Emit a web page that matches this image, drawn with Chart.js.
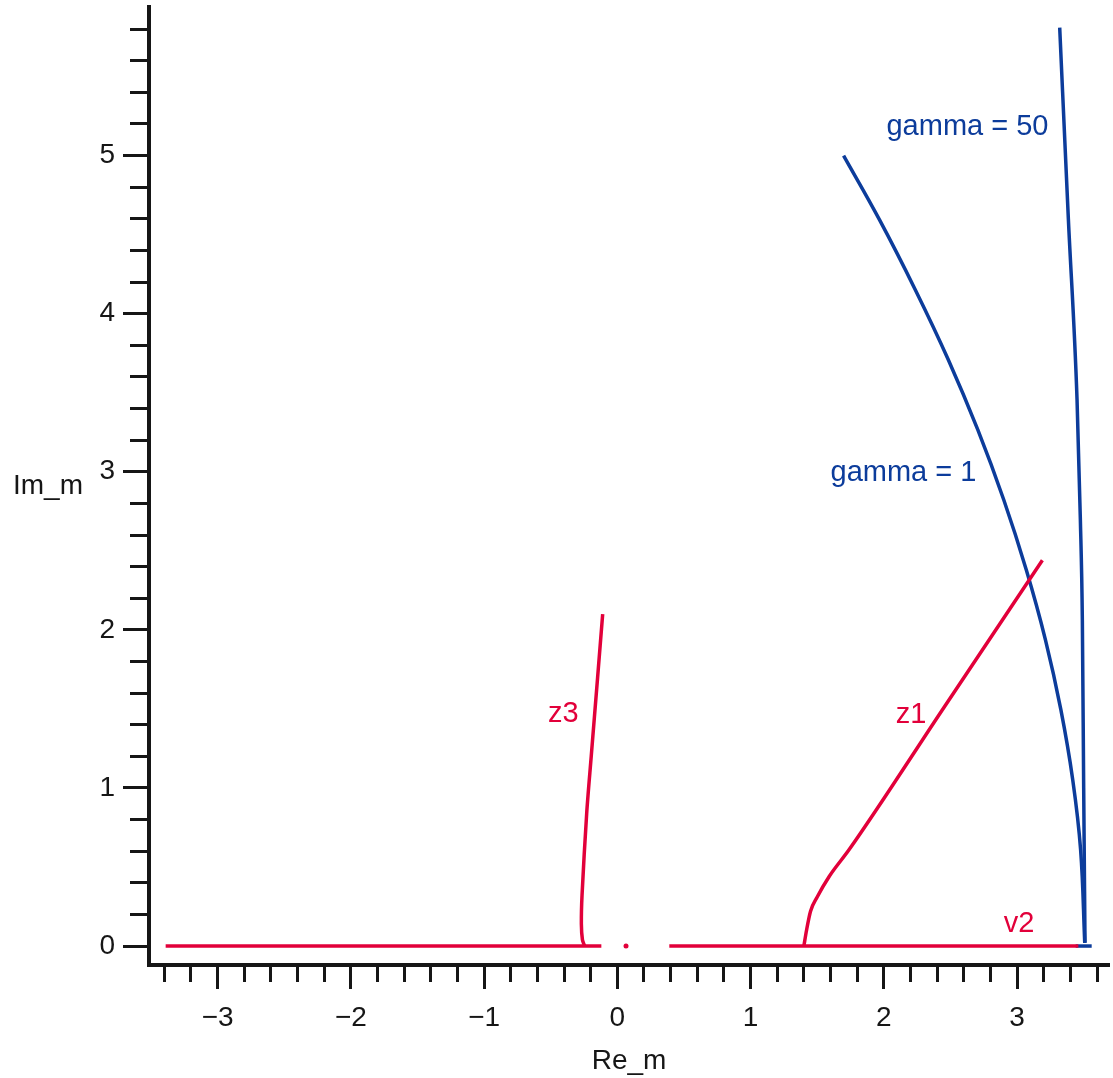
<!DOCTYPE html>
<html><head><meta charset="utf-8">
<script src="https://cdn.jsdelivr.net/npm/chart.js@4.4.1/dist/chart.umd.min.js"></script>
<style>html,body{margin:0;padding:0;background:#fff;} #wrap{width:1113px;height:1078px;position:relative;}</style>
</head><body><div id="wrap"><canvas id="c" width="1113" height="1078"></canvas></div>
<script>
const RED = 'rgb(226,0,58)';
const BLUE = 'rgb(12,60,155)';
const INK = '#161616';
const FONT = '"Liberation Sans", Arial, Helvetica, sans-serif';

// tick labels
const xTickLabels = ['\u22123', '\u22122', '\u22121', '0', '1', '2', '3'];
const xTickValues = [-3, -2, -1, 0, 1, 2, 3];
const yTickLabels = ['0', '1', '2', '3', '4', '5'];
const yTickValues = [0, 1, 2, 3, 4, 5];

// series (Re_m, Im_m)
const leftRealX = [-3.39, -0.12];
const leftRealY = [0, 0];
const z3X = [-0.245, -0.262, -0.27, -0.265, -0.23, -0.196, -0.148, -0.11];
const z3Y = [0, 0.04, 0.14, 0.32, 0.84, 1.2, 1.7, 2.1];
const dotX = [0.065];
const dotY = [0];
const v2X = [0.39, 3.46];
const v2Y = [0, 0];
const z1X = [1.40, 1.42, 1.45, 1.50, 1.59, 1.74, 2.46, 3.19];
const z1Y = [0, 0.1, 0.22, 0.31, 0.44, 0.61, 1.52, 2.44];
const g1X = [1.698, 1.967, 2.236, 2.484, 2.705, 2.900, 3.069, 3.213, 3.329, 3.418, 3.477, 3.508];
const g1Y = [5.0, 4.595, 4.152, 3.709, 3.266, 2.823, 2.380, 1.937, 1.494, 1.051, 0.608, 0.02];
const g50X = [3.32, 3.385, 3.45, 3.475, 3.49, 3.50, 3.51];
const g50Y = [5.81, 4.6, 3.46, 2.7, 2.06, 1.0, 0.02];
const tipX = [3.44, 3.56];
const tipY = [0, 0];

// text labels
const labelTexts = ['gamma = 50', 'gamma = 1', 'z1', 'z3', 'v2'];
const labelX = [2.02, 1.60, 2.09, -0.52, 2.90];
const labelY = [5.13, 2.94, 1.41, 1.42, 0.09];
const labelColors = [BLUE, BLUE, RED, RED, RED];

const pts = (xs, ys) => xs.map((v, i) => ({x: v, y: ys[i]}));
const line = (xs, ys, color, tension, mono) => ({
  data: pts(xs, ys), showLine: true, borderColor: color, backgroundColor: color,
  borderWidth: 3.5, pointRadius: 0, tension: tension, fill: false,
  cubicInterpolationMode: mono ? 'monotone' : 'default'
});

const isMajor = v => Math.abs(v - Math.round(v)) < 1e-6;

const textPlugin = {
  id: 'texts',
  afterDatasetsDraw(chart) {
    const {ctx, scales: {x, y}, chartArea} = chart;
    ctx.save();
    ctx.font = '29px ' + FONT;
    ctx.textAlign = 'left';
    ctx.textBaseline = 'alphabetic';
    labelTexts.forEach((t, i) => {
      ctx.fillStyle = labelColors[i];
      ctx.fillText(t, x.getPixelForValue(labelX[i]), y.getPixelForValue(labelY[i]));
    });
    ctx.font = '28px ' + FONT;
    ctx.fillStyle = INK;
    ctx.textAlign = 'center';
    ctx.textBaseline = 'middle';
    ctx.fillText('Im_m', 48, (chartArea.top + chartArea.bottom) / 2);
    ctx.restore();
  }
};

new Chart(document.getElementById('c'), {
  type: 'scatter',
  data: {
    datasets: [
      line(leftRealX, leftRealY, RED, 0, false),
      line(z3X, z3Y, RED, 0.3, false),
      {data: pts(dotX, dotY), showLine: false, pointRadius: 2.5, pointBorderWidth: 0, backgroundColor: RED, borderColor: RED},
      line(v2X, v2Y, RED, 0, false),
      line(z1X, z1Y, RED, 0.4, true),
      line(g1X, g1Y, BLUE, 0.4, false),
      line(g50X, g50Y, BLUE, 0.4, true),
      line(tipX, tipY, BLUE, 0, false)
    ]
  },
  options: {
    responsive: false,
    animation: false,
    devicePixelRatio: 1,
    layout: {padding: {top: 7, right: 1, left: 0, bottom: 0}},
    plugins: {legend: {display: false}, tooltip: {enabled: false}},
    scales: {
      x: {
        type: 'linear', position: 'bottom', min: -3.515, max: 3.69,
        border: {color: INK, width: 4},
        grid: {
          drawOnChartArea: false, drawTicks: true, tickLength: 24, tickWidth: 3, tickColor: INK,
          tickBorderDash: c => (c.tick && isMajor(c.tick.value)) ? [] : [15, 100]
        },
        ticks: {
          stepSize: 0.2, includeBounds: false, autoSkip: false, maxRotation: 0, padding: 12,
          color: INK, font: {family: FONT, size: 28},
          callback: v => { const k = xTickValues.findIndex(t => Math.abs(t - v) < 1e-6); return k >= 0 ? xTickLabels[k] : ''; }
        },
        title: {display: true, text: 'Re_m', color: INK, font: {family: FONT, size: 28}, padding: {top: 0, bottom: 0}},
        afterFit: s => { s.height = 113; s.paddingLeft = 0; s.paddingRight = 0; }
      },
      y: {
        type: 'linear', position: 'left', min: -0.12, max: 5.94,
        border: {color: INK, width: 4},
        grid: {
          drawOnChartArea: false, drawTicks: true, tickLength: 26, tickWidth: 3, tickColor: INK,
          tickBorderDash: c => (c.tick && isMajor(c.tick.value)) ? [] : [0, 7, 17, 100]
        },
        ticks: {
          stepSize: 0.2, includeBounds: false, autoSkip: false, padding: 8,
          color: INK, font: {family: FONT, size: 28},
          callback: v => { const k = yTickValues.findIndex(t => Math.abs(t - v) < 1e-6); return k >= 0 ? yTickLabels[k] : ''; }
        },
        afterFit: s => { s.width = 149; s.paddingTop = 0; s.paddingBottom = 0; }
      }
    }
  },
  plugins: [textPlugin]
});
</script>
</body></html>
